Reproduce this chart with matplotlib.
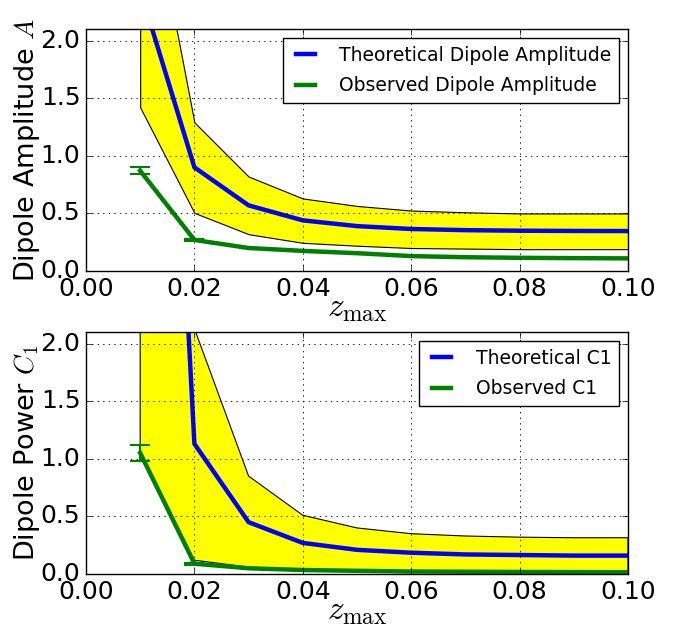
import matplotlib
matplotlib.use('Agg')
import matplotlib.pyplot as plt
import numpy as np

# redshift cut values
z_max = [0.01, 0.02, 0.03, 0.04, 0.05, 0.06, 0.07, 0.08, 0.09, 0.10]

# dipole amplitude
amp_theory = [2.44, 0.90, 0.57, 0.44, 0.39, 0.365, 0.355, 0.35, 0.348, 0.347]
amp_upper = [3.74, 1.29, 0.82, 0.63, 0.565, 0.525, 0.51, 0.50, 0.50, 0.50]
amp_lower = [1.42, 0.505, 0.32, 0.245, 0.22, 0.20, 0.195, 0.19, 0.19, 0.19]
amp_obs = [0.87, 0.27, 0.20, 0.175, 0.155, 0.13, 0.12, 0.115, 0.112, 0.11]
amp_err = [0.03, 0.01, 0.0, 0.0, 0.0, 0.0, 0.0, 0.0, 0.0, 0.0]

# dipole power C1
c1_theory = [10.0, 1.13, 0.45, 0.27, 0.21, 0.185, 0.17, 0.165, 0.16, 0.16]
c1_upper = [20.0, 2.13, 0.85, 0.51, 0.40, 0.35, 0.33, 0.32, 0.315, 0.315]
c1_lower = [1.07, 0.12, 0.06, 0.04, 0.03, 0.025, 0.022, 0.02, 0.018, 0.018]
c1_obs = [1.05, 0.09, 0.05, 0.035, 0.028, 0.022, 0.02, 0.018, 0.017, 0.016]
c1_err = [0.07, 0.008, 0.0, 0.0, 0.0, 0.0, 0.0, 0.0, 0.0, 0.0]

plt.style.use('classic')
plt.rcParams['figure.facecolor'] = 'white'
plt.rcParams['savefig.facecolor'] = 'white'
plt.rcParams['mathtext.fontset'] = 'cm'


def panel(ax, theory, upper, lower, obs, err, ylab, lab_t, lab_o):
    ax.fill_between(z_max, lower, upper, facecolor='yellow', edgecolor='black', linewidth=0.8)
    ax.plot(z_max, theory, color='blue', lw=3.2, label=lab_t)
    ax.plot(z_max, obs, color='green', lw=3.2, label=lab_o)
    ax.errorbar(z_max, obs, yerr=err, fmt='none', ecolor='green', capsize=7, elinewidth=1.5, capthick=1.5)
    ax.set_xlim(0, 0.1)
    ax.set_ylim(0, 2.1)
    ax.set_xticks(np.arange(0, 0.101, 0.02))
    ax.set_yticks([0.0, 0.5, 1.0, 1.5, 2.0])
    ax.tick_params(labelsize=18)
    ax.tick_params(axis='x', pad=4)
    ax.grid(True, color='black', linestyle=':', linewidth=0.6)
    ax.set_xlabel(r'$z_{\rm max}$', fontsize=24, labelpad=-7)
    ax.set_ylabel(ylab, fontsize=19.5, labelpad=-1)
    ax.legend(loc='upper right', fontsize=13.5, handlelength=1.6, handletextpad=1.0,
              labelspacing=0.6)


fig = plt.figure(figsize=(6.75, 6.26), dpi=100)
ax1 = fig.add_axes([0.1274, 0.567, 0.803, 0.3866])
ax2 = fig.add_axes([0.1274, 0.083, 0.803, 0.3866])

panel(ax1, amp_theory, amp_upper, amp_lower, amp_obs, amp_err,
      r'Dipole Amplitude $A$', 'Theoretical Dipole Amplitude', 'Observed Dipole Amplitude')
panel(ax2, c1_theory, c1_upper, c1_lower, c1_obs, c1_err,
      r'Dipole Power $C_1$', 'Theoretical C1', 'Observed C1')

fig.savefig('out.png', dpi=100)
